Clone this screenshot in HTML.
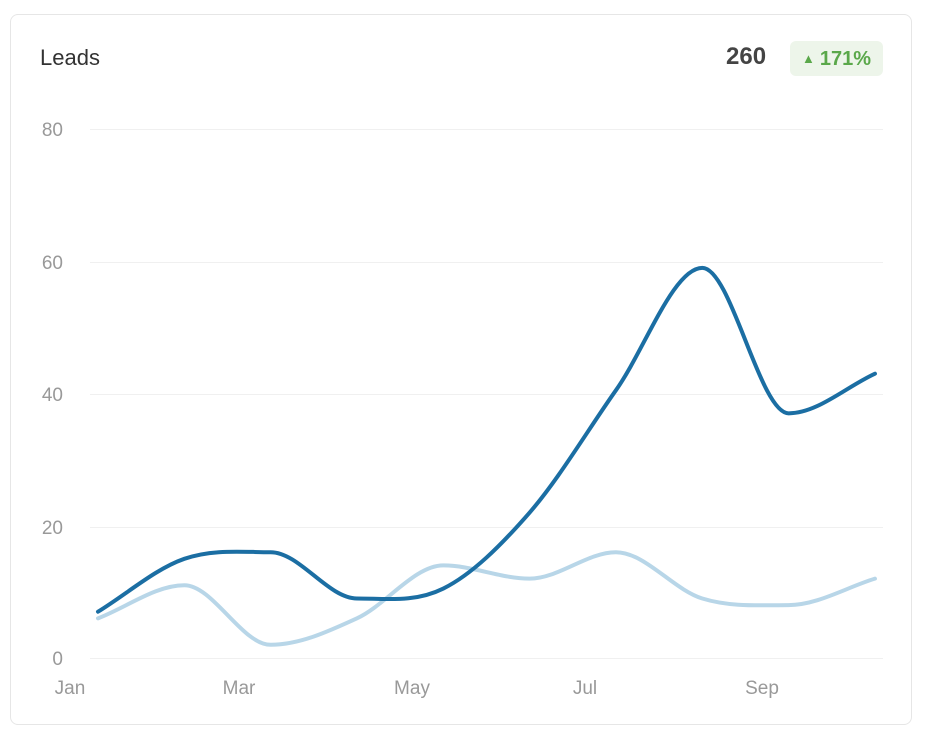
<!DOCTYPE html>
<html><head><style>
body{margin:0;width:928px;height:744px;background:#fff;font-family:"Liberation Sans",Arial,sans-serif;overflow:hidden}
.card{position:absolute;left:10px;top:14px;width:902px;height:711px;border:1px solid #e6e6e6;border-radius:8px;box-sizing:border-box}
.t{position:absolute;left:40px;top:45px;font-size:22px;color:#333}
.n{position:absolute;left:726px;top:43px;font-size:24px;font-weight:bold;color:#444}
.b{position:absolute;left:790px;top:41px;width:93px;height:35px;background:#edf5ea;border-radius:6px;color:#5aa84a;font-weight:bold;font-size:20px;line-height:35px;text-align:center}
.b span{font-size:13px;vertical-align:2px;margin-right:5px}
</style></head><body>
<div class="card"></div>
<div class="t">Leads</div>
<div class="n">260</div>
<div class="b"><span>▲</span>171%</div>
<svg width="928" height="744" style="position:absolute;left:0;top:0">
<g stroke="#f0f0f0" stroke-width="1">
<line x1="90" x2="883" y1="129.5" y2="129.5"/><line x1="90" x2="883" y1="262.5" y2="262.5"/>
<line x1="90" x2="883" y1="394.5" y2="394.5"/><line x1="90" x2="883" y1="527.5" y2="527.5"/>
<line x1="90" x2="883" y1="658.5" y2="658.5"/></g>
<g font-size="19" fill="#999" text-anchor="end">
<text x="63" y="136">80</text><text x="63" y="269">60</text><text x="63" y="401">40</text><text x="63" y="534">20</text><text x="63" y="665">0</text></g>
<g font-size="19" fill="#999" text-anchor="middle">
<text x="70" y="694">Jan</text><text x="239" y="694">Mar</text><text x="412" y="694">May</text><text x="585" y="694">Jul</text><text x="762" y="694">Sep</text></g>
<path id="l" fill="none" stroke="#b8d6e8" stroke-width="4" stroke-linecap="round"/>
<path id="d" fill="none" stroke="#1b6ea3" stroke-width="4" stroke-linecap="round"/>
</svg>
<script>
function path(v){var p=v.map(function(y,i){return[98+i*86.33,658-y*6.6125]});
var n=p.length,dx=[],m=[],t=[];
for(var i=0;i<n-1;i++){dx[i]=p[i+1][0]-p[i][0];m[i]=(p[i+1][1]-p[i][1])/dx[i];}
t[0]=m[0];t[n-1]=m[n-2];
for(i=1;i<n-1;i++){t[i]=(m[i-1]*m[i]<=0)?0:(m[i-1]+m[i])/2;}
var s="M"+p[0][0]+","+p[0][1];
for(i=0;i<n-1;i++){var h=dx[i]/3;s+="C"+(p[i][0]+h)+","+(p[i][1]+t[i]*h)+" "+(p[i+1][0]-h)+","+(p[i+1][1]-t[i+1]*h)+" "+p[i+1][0]+","+p[i+1][1];}
return s;}
document.getElementById('d').setAttribute('d',path([7,15,16,9,10.5,22,40.5,59,37,43]));
document.getElementById('l').setAttribute('d',path([6,11,2,6,14,12,16,9,8,12]));
</script>
</body></html>
